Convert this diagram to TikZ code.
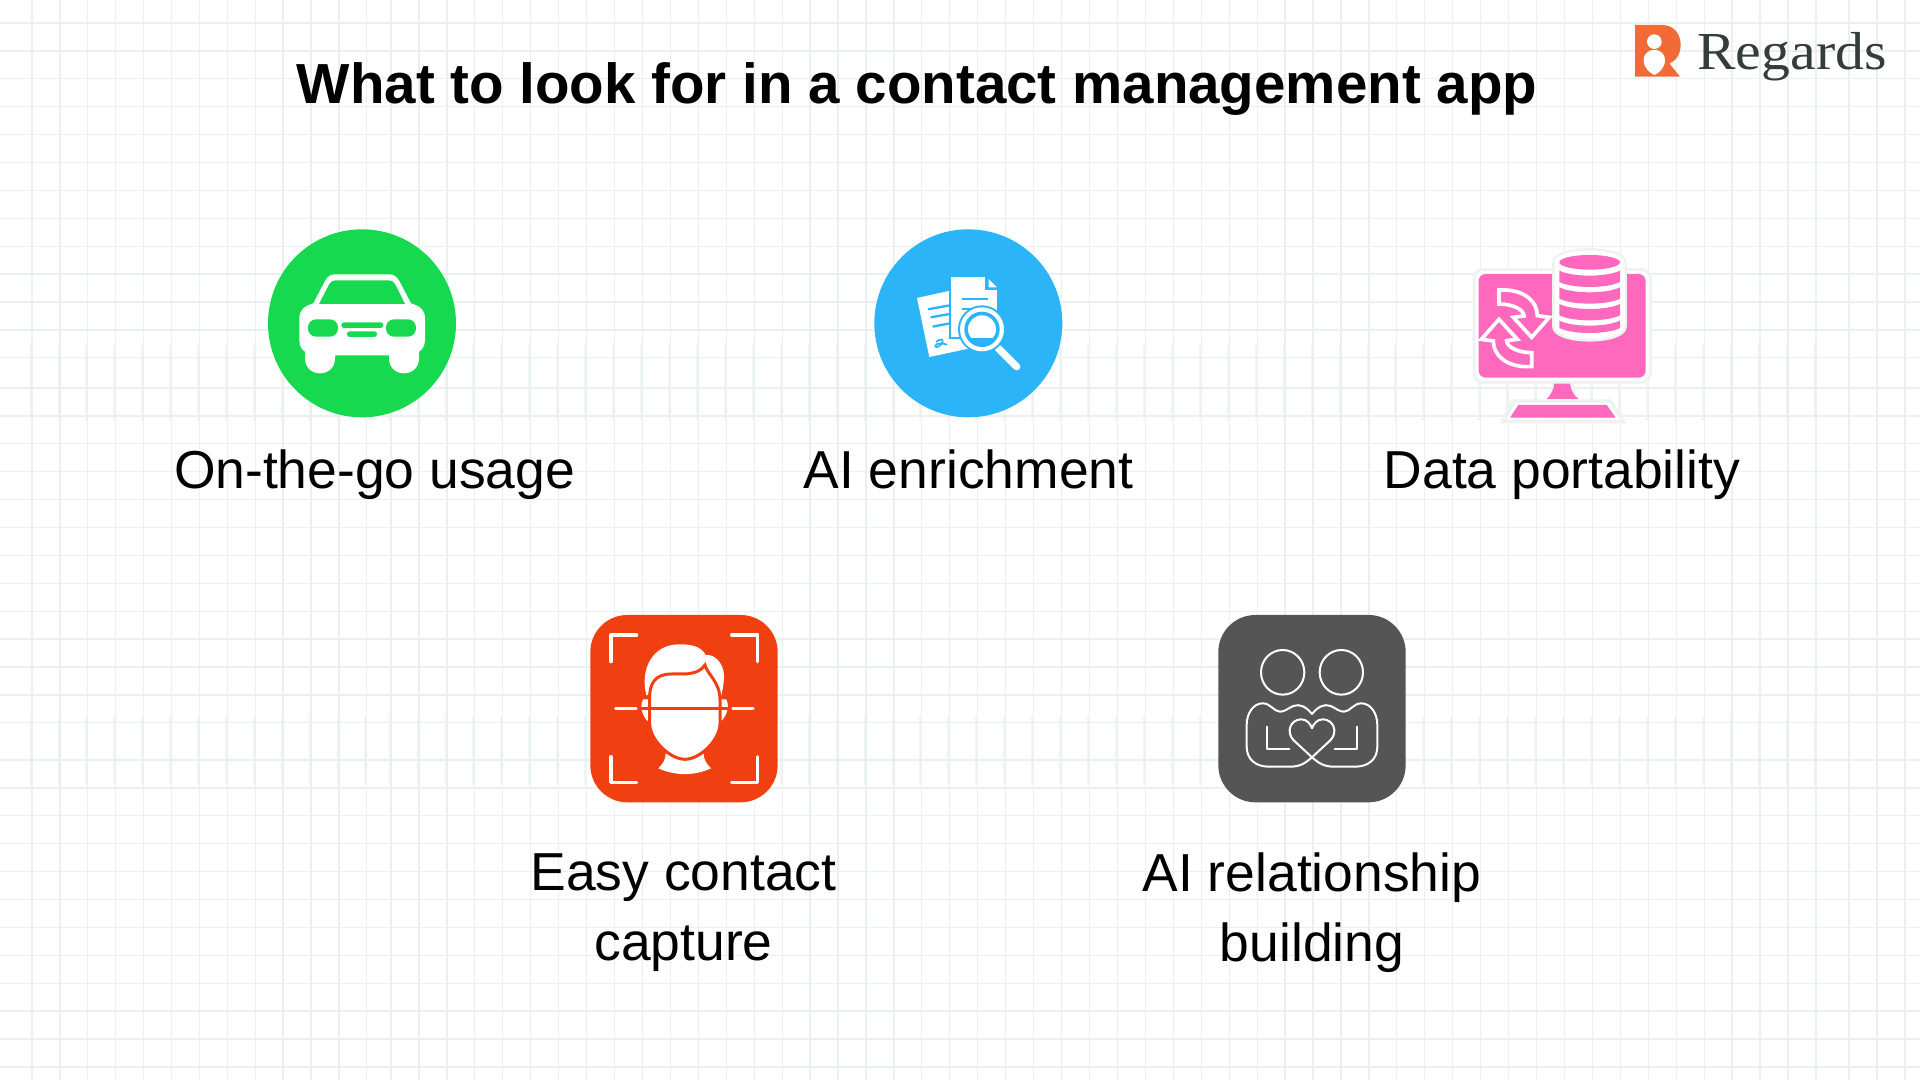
\documentclass[tikz,border=0pt]{standalone}
\usepackage{fontspec}
\setmainfont{Liberation Sans}
\newfontfamily\logofont{Liberation Serif}
\usepackage{tikz}
\definecolor{gridc}{HTML}{E9F0EE}
\definecolor{bandc}{HTML}{F0F4F2}
\definecolor{carc}{HTML}{16D94F}
\definecolor{docc}{HTML}{2BB5F8}
\definecolor{dbc}{HTML}{FF69BD}
\definecolor{palec}{HTML}{EEF2F0}
\definecolor{facec}{HTML}{F04011}
\definecolor{hugc}{HTML}{555555}
\definecolor{logoc}{HTML}{F26A36}
\definecolor{logot}{HTML}{333D3B}
\tikzset{
    lw/.style={line width=#1*0.0948pt},
    icon/.style={scale=1/3},
    gridln/.style={draw=gridc,line width=0.36pt},
    bandln/.style={draw=bandc,line width=0.5pt},
    lbl/.style={font=\fontsize{15.2}{19.9}\selectfont,align=center,inner sep=0pt},
    wline/.style={draw=white,line cap=round,line join=round},
}
\def\dbband{-- ++(0,34) .. controls +(40,20) and +(-40,20) .. ++(182,0) -- ++(0,-34) .. controls +(-40,20) and +(40,20) .. ++(-182,0)}
\def\syncarrow{(147,180) -- (165,180) .. controls (225,182) and (262,215) .. (262,257) -- (298,262) -- (245,322) -- (190,262) -- (222,258) .. controls (222,240) and (190,222) .. (147,222) -- cycle}
\def\hughalf{(336,342) .. controls (320,322) and (300,310) .. (280,318) .. controls (262,326) and (255,335) .. (240,335) .. controls (222,335) and (212,310) .. (188,310) .. controls (160,310) and (140,340) .. (140,375) -- (140,440) .. controls (140,480) and (170,500) .. (205,500) -- (270,500) .. controls (300,500) and (315,490) .. (336,472) -- (392,420) .. controls (415,395) and (400,358) .. (368,358) .. controls (352,358) and (340,372) .. (336,385)}

\begin{document}
\begin{tikzpicture}[x=0.01cm,y=-0.01cm]
            \useasboundingbox[fill=white] (0,0) rectangle (1920,1080);
            % background grid
            \foreach \x in {0,...,12} {
                \draw[bandln] (30.5+27.9*\x,345) -- (30.5+27.9*\x,420);
                \draw[bandln] (30.5+27.9*\x,717) -- (30.5+27.9*\x,785);
            }
            \foreach \x in {0,...,51} {
                \draw[bandln] (389.5+27.94*\x,345) -- (389.5+27.94*\x,420);
                \draw[bandln] (389.5+27.94*\x,717) -- (389.5+27.94*\x,785);
            }
            \foreach \y in {0,...,12} \draw[gridln] (0,23+27.9*\y) -- (1920,23+27.9*\y);
            \foreach \y in {0,...,12} \draw[gridln] (0,388+27.9*\y) -- (1920,388+27.9*\y);
            \foreach \y in {0,...,11} \draw[gridln] (0,760+27.9*\y) -- (1920,760+27.9*\y);
            \foreach \x in {0,...,12} \draw[gridln] (32+27.9*\x,0) -- (32+27.9*\x,1080);
            \foreach \x in {0,...,51} \draw[gridln] (391+27.94*\x,0) -- (391+27.94*\x,1080);
            \foreach \x in {1849,1877,1905} \draw[gridln] (\x,0) -- (\x,1080);

            \node[font=\fontsize{16.07}{20}\selectfont\bfseries,inner sep=0pt] (title) at (917,89.5) {What to look for in a contact management app};

            % logo
            \begin{scope}[shift={(1600,0)},icon]
                \fill[logoc] (105,75) -- (185,75) .. controls (225,75) and (242,105) .. (242,135) .. controls (242,165) and (225,185) .. (208,190) -- (240,230) -- (105,230) -- cycle;
                \fill[white] (163,125) circle (22);
                \fill[white] (163,150) .. controls (185,150) and (195,165) .. (195,180) .. controls (195,205) and (175,220) .. (163,225) .. controls (151,220) and (131,205) .. (131,180) .. controls (131,165) and (141,150) .. (163,150) -- cycle;
            \end{scope}
            \node[font=\logofont\fontsize{15.2}{18}\selectfont,text=logot,inner sep=0pt,xscale=1.08,transform shape] (logo) at (1792,56.5) {Regards};

            % car
            \begin{scope}[shift={(250,210)},icon]
                \fill[carc] (336,340) circle (282);
                \fill[white] (190,280) -- (225,213) .. controls (232,200) and (240,193) .. (255,193) -- (417,193) .. controls (432,193) and (440,200) .. (448,213) -- (483,280) .. controls (510,288) and (525,300) .. (525,325) -- (525,390) .. controls (525,410) and (515,420) .. (507,425) -- (507,445) .. controls (507,505) and (417,505) .. (417,445) -- (417,436) -- (255,436) -- (255,445) .. controls (255,505) and (165,505) .. (165,445) -- (165,425) .. controls (157,420) and (148,410) .. (148,390) -- (148,325) .. controls (148,300) and (163,288) .. (190,280) -- cycle;
                \fill[carc] (207,282) -- (238,222) .. controls (243,214) and (248,211) .. (257,211) -- (416,211) .. controls (425,211) and (430,214) .. (435,222) -- (465,282) -- cycle;
                \fill[carc,rounded corners=0.08cm] (174,328) rectangle (264,380);
                \fill[carc,rounded corners=0.08cm] (408,328) rectangle (498,380);
                \fill[carc,rounded corners=0.027cm] (274,337) rectangle (400,354);
                \fill[carc,rounded corners=0.027cm] (291,364) rectangle (381,381);
            \end{scope}
            \node[lbl,anchor=base] (onthego) at (374.6,489) {On-the-go usage};

            % document and lens
            \begin{scope}[shift={(860,210)},icon]
                \fill[docc] (325,340) circle (282);
                \fill[white] (171,264) -- (280,240) -- (330,415) -- (208,441) -- cycle;
                \draw[docc,lw=7] (204,298) -- (270,286);
                \draw[docc,lw=7] (212,322) -- (270,312);
                \draw[docc,lw=7] (218,350) -- (270,340);
                \draw[docc,lw=5] (228,396) .. controls (240,385) and (250,388) .. (248,395) .. controls (245,405) and (228,418) .. (226,408) .. controls (226,398) and (250,400) .. (262,404);
                \draw[fill=white,draw=docc,lw=6] (270,198) -- (378,198) -- (378,238) -- (415,238) -- (415,385) -- (270,385) -- cycle;
                \fill[white] (386,207) -- (411,232) -- (386,232) -- cycle;
                \draw[docc,lw=7] (305,267) -- (383,267);
                \draw[docc,lw=7] (305,297) -- (345,297);
                \draw[wline,lw=22] (415,415) -- (470,470);
                \fill[docc] (366,358) circle (72);
                \fill[white] (366,358) circle (66);
                \fill[docc] (366,358) circle (53);
                \begin{scope}
                    \clip (366,358) circle (42);
                    \fill[white] (320,310) rectangle (415,384);
                \end{scope}
            \end{scope}
            \node[lbl,anchor=base] (enrich) at (968.5,489) {AI enrichment};

            % monitor and database
            \begin{scope}[shift={(1450,230)},icon]
                \fill[palec] (150,580) -- (185,508) -- (290,508) .. controls (300,490) and (305,475) .. (305,450) -- (370,450) .. controls (372,475) and (378,490) .. (388,508) -- (485,508) -- (528,580) -- cycle;
                \fill[white] (170,570) -- (195,518) -- (480,518) -- (510,570) -- cycle;
                \draw[fill=white,draw=palec,lw=9,rounded corners=0.09cm] (72,118) rectangle (601,457);
                \fill[dbc,rounded corners=0.07cm] (86,132) rectangle (587,443);
                \fill[dbc] (313,461) -- (360,461) .. controls (362,480) and (372,497) .. (385,507) -- (290,507) .. controls (302,497) and (311,480) .. (313,461) -- cycle;
                \fill[dbc] (205,525) -- (470,525) -- (497,563) -- (180,563) -- cycle;
                \draw[fill=white,draw=palec,lw=7] (310,97) .. controls (310,45) and (527,45) .. (527,97) -- (527,290) .. controls (527,345) and (310,345) .. (310,290) -- cycle;
                \fill[dbc] (419,97) ellipse (91 and 22);
                \fill[dbc] (328,122) \dbband;
                \fill[dbc] (328,172) \dbband;
                \fill[dbc] (328,222) \dbband;
                \fill[dbc] (328,272) -- ++(0,22) .. controls +(40,20) and +(-40,20) .. ++(182,0) -- ++(0,-22) .. controls +(-40,20) and +(40,20) .. ++(-182,0);
                \draw[fill=dbc,draw=white,lw=11,line join=miter] \syncarrow;
                \begin{scope}[rotate around={180:(196,295)}]
                    \draw[fill=dbc,draw=white,lw=11,line join=miter] \syncarrow;
                \end{scope}
            \end{scope}
            \node[lbl,anchor=base] (portable) at (1562,489) {Data portability};

            % face scan
            \begin{scope}[shift={(575,600)},icon]
                \fill[facec,rounded corners=0.37cm] (46,45) rectangle (608,607);
                \draw[wline,lw=10] (185,105) -- (108,105) -- (108,185);
                \draw[wline,lw=10] (470,105) -- (548,105) -- (548,185);
                \draw[wline,lw=10] (108,470) -- (108,547) -- (185,547);
                \draw[wline,lw=10] (548,470) -- (548,547) -- (470,547);
                \draw[wline,lw=10] (122,325) -- (183,325);
                \draw[wline,lw=10] (474,325) -- (534,325);
                \fill[white] (250,505) .. controls (265,490) and (272,478) .. (272,460) -- (386,460) .. controls (386,478) and (393,490) .. (408,505) .. controls (360,528) and (300,528) .. (250,505) -- cycle;
                \fill[white] (205,298) .. controls (196,310) and (196,340) .. (218,364) -- (222,298) -- cycle;
                \fill[white] (453,298) .. controls (462,310) and (462,340) .. (438,364) -- (434,298) -- cycle;
                \fill[white] (214,285) .. controls (195,210) and (230,135) .. (310,133) .. controls (345,132) and (378,138) .. (392,165) .. controls (420,162) and (445,190) .. (447,225) .. controls (447,250) and (442,275) .. (438,290) -- cycle;
                \draw[fill=white,draw=facec,lw=9] (224,300) .. controls (222,250) and (240,222) .. (290,222) -- (325,222) .. controls (355,222) and (380,212) .. (390,195) .. controls (398,225) and (435,245) .. (435,300) -- (435,370) .. controls (435,420) and (375,478) .. (330,478) .. controls (285,478) and (224,420) .. (224,370) -- cycle;
                \draw[facec,lw=10] (190,325) -- (462,325);
            \end{scope}
            \node[lbl] (capture) at (683.5,912.5) {Easy contact\\capture};

            % two people and heart
            \begin{scope}[shift={(1200,600)},icon]
                \fill[hugc,rounded corners=0.37cm] (55,45) rectangle (617,607);
                \draw[wline,lw=6] (248,217) ellipse (65 and 67);
                \draw[wline,lw=6] (424,217) ellipse (65 and 67);
                \draw[wline,lw=6] \hughalf;
                \draw[wline,lw=6] (202,380) -- (202,448) -- (268,448);
                \begin{scope}[shift={(672,0)},xscale=-1]
                    \draw[wline,lw=6] \hughalf;
                    \draw[wline,lw=6] (202,380) -- (202,448) -- (268,448);
                \end{scope}
            \end{scope}
            \node[lbl] (hugging) at (1312,912.5) {AI relationship\\building};
\end{tikzpicture}
\end{document}
